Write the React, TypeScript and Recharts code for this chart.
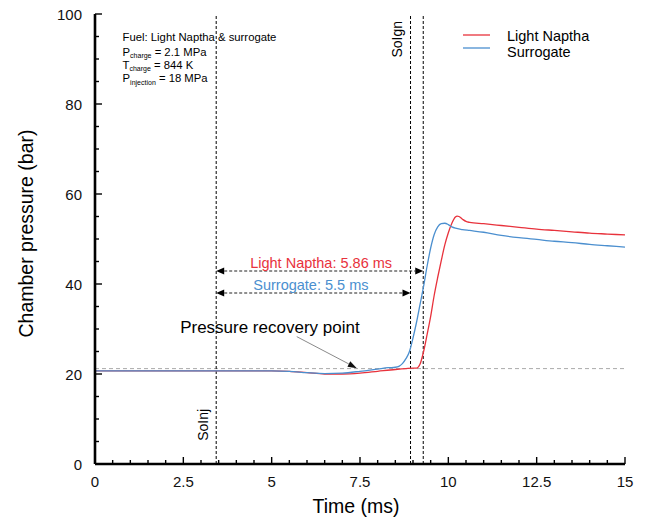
import React from "react";
import {
  LineChart,
  Line,
  XAxis,
  YAxis,
  ReferenceLine,
  ReferenceDot,
  Legend,
} from "recharts";

// ---------------- data ----------------
const timeNaptha = [0, 1, 2, 3, 4, 5, 5.5, 6, 6.5, 7, 7.5, 8, 8.5, 8.8, 9.0, 9.1, 9.2, 9.3, 9.4, 9.5, 9.6, 9.7, 9.8, 9.9, 10.0, 10.1, 10.2, 10.25, 10.3, 10.4, 10.5, 10.6, 11, 11.5, 12, 12.5, 13, 13.5, 14, 14.5, 15];
const pressureNaptha = [20.7, 20.7, 20.7, 20.7, 20.7, 20.7, 20.6, 20.3, 20.0, 20.0, 20.2, 20.6, 21.0, 21.2, 21.3, 21.3, 22.2, 25.0, 28.8, 32.8, 37.5, 41.5, 45.2, 48.7, 51.4, 53.5, 54.9, 55.1, 55.0, 54.4, 53.9, 53.7, 53.4, 53.0, 52.6, 52.2, 51.9, 51.6, 51.3, 51.1, 50.9];

const timeSurrogate = [0, 1, 2, 3, 4, 5, 5.5, 6, 6.5, 7, 7.5, 8, 8.3, 8.5, 8.6, 8.7, 8.8, 8.9, 9.0, 9.1, 9.2, 9.3, 9.4, 9.5, 9.6, 9.7, 9.8, 9.9, 10.0, 10.1, 10.2, 10.4, 10.6, 11, 11.5, 12, 12.5, 13, 13.5, 14, 14.5, 15];
const pressureSurrogate = [20.7, 20.7, 20.7, 20.7, 20.7, 20.7, 20.6, 20.3, 20.1, 20.2, 20.6, 21.1, 21.4, 21.5, 21.7, 22.3, 23.4, 25.0, 28.0, 31.5, 35.5, 39.5, 44.0, 48.0, 51.0, 52.7, 53.4, 53.5, 53.2, 52.7, 52.4, 52.1, 51.9, 51.5, 50.8, 50.3, 49.9, 49.5, 49.2, 48.8, 48.5, 48.2];

const seriesNames = ["Light Naptha", "Surrogate"];

const xMajorTicks = [0, 2.5, 5, 7.5, 10, 12.5, 15];
const xAllTicks = [0, 0.5, 1, 1.5, 2, 2.5, 3, 3.5, 4, 4.5, 5, 5.5, 6, 6.5, 7, 7.5, 8, 8.5, 9, 9.5, 10, 10.5, 11, 11.5, 12, 12.5, 13, 13.5, 14, 14.5, 15];
const yMajorTicks = [0, 20, 40, 60, 80, 100];
const yAllTicks = [0, 5, 10, 15, 20, 25, 30, 35, 40, 45, 50, 55, 60, 65, 70, 75, 80, 85, 90, 95, 100];

// events (ms) and levels (bar)
const startOfInjection = 3.43;
const ignitionSurrogate = 8.93;
const ignitionNaptha = 9.29;
const recoveryPressure = 21.2;
const delayLabels = ["Light Naptha: 5.86 ms", "Surrogate: 5.5 ms"];
const infoLines = ["Fuel: Light Naptha & surrogate", "2.1 MPa", "844 K", "18 MPa"];

const RED = "#e8323c";
const BLUE = "#4b8fcf";
const FONT = "'Liberation Sans', Arial, Helvetica, sans-serif";

const naptha = timeNaptha.map((t, i) => ({ t, p: pressureNaptha[i] }));
const surrogate = timeSurrogate.map((t, i) => ({ t, p: pressureSurrogate[i] }));

// ---------------- ticks ----------------
const BottomTick = (props: any) => {
  const { x, y, payload } = props;
  const v = payload.value;
  const major = xMajorTicks.includes(v);
  return (
    <g>
      <line x1={x} y1={y} x2={x} y2={y - (major ? 7 : 4)} stroke="#000" strokeWidth={1.4} />
      {major && (
        <text x={x} y={y + 23} textAnchor="middle" fontSize={15} fill="#111" fontFamily={FONT}>
          {String(v)}
        </text>
      )}
    </g>
  );
};

const TopTick = (props: any) => {
  const { x, y, payload } = props;
  const major = xMajorTicks.includes(payload.value);
  return <line x1={x} y1={y} x2={x} y2={y + (major ? 6 : 4)} stroke="#000" strokeWidth={1.3} />;
};

const LeftTick = (props: any) => {
  const { x, y, payload } = props;
  const v = payload.value;
  const major = yMajorTicks.includes(v);
  return (
    <g>
      <line x1={x} y1={y} x2={x + (major ? 7 : 4)} y2={y} stroke="#000" strokeWidth={1.4} />
      {major && (
        <text x={x - 13} y={y + 5.5} textAnchor="end" fontSize={15} fill="#111" fontFamily={FONT}>
          {String(v)}
        </text>
      )}
    </g>
  );
};

// ---------------- shapes ----------------
const DoubleArrow = (props: any) => {
  const { x1, y1, x2, y2 } = props;
  const L = 8;
  const H = 3.5;
  return (
    <g>
      <line x1={x1 + L} y1={y1} x2={x2 - L} y2={y2} stroke="#222" strokeWidth={1.1} strokeDasharray="3 2" />
      <polygon points={`${x1},${y1} ${x1 + L},${y1 - H} ${x1 + L},${y1 + H}`} fill="#000" />
      <polygon points={`${x2},${y2} ${x2 - L},${y2 - H} ${x2 - L},${y2 + H}`} fill="#000" />
    </g>
  );
};

const Pointer = (props: any) => {
  const { x1, y1, x2, y2 } = props;
  const dx = x2 - x1;
  const dy = y2 - y1;
  const len = Math.sqrt(dx * dx + dy * dy);
  const ux = dx / len;
  const uy = dy / len;
  const L = 9;
  const H = 3;
  const bx = x2 - ux * L;
  const by = y2 - uy * L;
  return (
    <g>
      <line x1={x1} y1={y1} x2={bx} y2={by} stroke="#8a8a8a" strokeWidth={1} />
      <polygon
        points={`${x2},${y2} ${bx - uy * H},${by + ux * H} ${bx + uy * H},${by - ux * H}`}
        fill="#111"
      />
    </g>
  );
};

const textAt = (text: string, fontSize: number, fill: string, rotate = false, anchor = "middle") => (p: any) => {
  const vb = p.viewBox || {};
  const x = vb.x + (vb.width || 0) / 2;
  const y = vb.y + (vb.height || 0) / 2;
  return (
    <text
      x={x}
      y={y}
      dy="0.35em"
      textAnchor={anchor}
      fontSize={fontSize}
      fill={fill}
      fontFamily={FONT}
      transform={rotate ? `rotate(-90 ${x} ${y})` : undefined}
    >
      {text}
    </text>
  );
};

const InfoBlock = (p: any) => {
  const vb = p.viewBox || {};
  const x = vb.x;
  const y = vb.y;
  const fs = 11.3;
  const sub = 7;
  return (
    <text fontSize={fs} fill="#000" fontFamily={FONT}>
      <tspan x={x} y={y}>{infoLines[0]}</tspan>
      <tspan x={x} y={y + 14.5}>P</tspan>
      <tspan y={y + 17} fontSize={sub}>charge</tspan>
      <tspan y={y + 14.5}>{" = " + infoLines[1]}</tspan>
      <tspan x={x} y={y + 27.5}>T</tspan>
      <tspan y={y + 30} fontSize={sub}>charge</tspan>
      <tspan y={y + 27.5}>{" =  " + infoLines[2]}</tspan>
      <tspan x={x} y={y + 41}>P</tspan>
      <tspan y={y + 43.5} fontSize={sub}>injection</tspan>
      <tspan y={y + 41}>{" = " + infoLines[3]}</tspan>
    </text>
  );
};

const LegendContent = (props: any) => {
  const items = props.payload || [];
  return (
    <svg width={180} height={40}>
      {items.map((it: any, i: number) => (
        <g key={i}>
          <line x1={3} y1={8 + i * 13} x2={30} y2={8 + i * 13} stroke={it.color} strokeWidth={1.3} />
          <text x={47} y={13.5 + i * 16.5} fontSize={14.5} fill="#000" fontFamily={FONT}>
            {it.value}
          </text>
        </g>
      ))}
    </svg>
  );
};

export default function App() {
  return (
    <div style={{ position: "absolute", left: 0, top: 0, background: "#fff" }}>
      <LineChart width={646} height={519} margin={{ top: 14, right: 21, bottom: 5, left: 35 }}>
        <XAxis
          xAxisId="b"
          dataKey="t"
          type="number"
          domain={[0, 15]}
          ticks={xAllTicks}
          interval={0}
          allowDataOverflow
          tickLine={false}
          tickSize={0}
          tickMargin={0}
          tick={<BottomTick />}
          axisLine={{ stroke: "#000", strokeWidth: 2.6 }}
          height={50}
          label={(p: any) => {
            const vb = p.viewBox || {};
            return (
              <text x={vb.x + vb.width / 2 - 4} y={vb.y + 49} textAnchor="middle" fontSize={19.5} fill="#000" fontFamily={FONT}>
                Time (ms)
              </text>
            );
          }}
        />
        <XAxis
          xAxisId="t"
          orientation="top"
          dataKey="t"
          type="number"
          domain={[0, 15]}
          ticks={xAllTicks}
          interval={0}
          allowDataOverflow
          tickLine={false}
          tickSize={0}
          tickMargin={0}
          tick={<TopTick />}
          axisLine={{ stroke: "#000", strokeWidth: 1.6 }}
          height={0}
        />
        <YAxis
          yAxisId="l"
          type="number"
          domain={[0, 100]}
          ticks={yAllTicks}
          interval={0}
          allowDataOverflow
          tickLine={false}
          tickSize={0}
          tickMargin={0}
          tick={<LeftTick />}
          axisLine={{ stroke: "#000", strokeWidth: 2.6 }}
          width={60}
          label={(p: any) => {
            const vb = p.viewBox || {};
            const x = vb.x - 9;
            const y = vb.y + vb.height / 2 - 5.5;
            return (
              <text x={x} y={y} dy="0.35em" textAnchor="middle" fontSize={19.5} fill="#000" fontFamily={FONT} transform={`rotate(-90 ${x} ${y})`}>
                Chamber pressure (bar)
              </text>
            );
          }}
        />
        <YAxis
          yAxisId="r"
          orientation="right"
          type="number"
          domain={[0, 100]}
          allowDataOverflow
          tick={false}
          tickLine={false}
          axisLine={{ stroke: "#000", strokeWidth: 1.6 }}
          width={0}
        />

        <ReferenceLine
          xAxisId="b"
          yAxisId="l"
          y={recoveryPressure}
          stroke="#aaaaaa"
          strokeWidth={1}
          strokeDasharray="4 3"
        />
        <ReferenceLine xAxisId="b" yAxisId="l" x={startOfInjection} stroke="#000" strokeWidth={1} strokeDasharray="3 2" />
        <ReferenceLine xAxisId="b" yAxisId="l" x={ignitionSurrogate} stroke="#000" strokeWidth={1} strokeDasharray="3 2" />
        <ReferenceLine xAxisId="b" yAxisId="l" x={ignitionNaptha} stroke="#000" strokeWidth={1} strokeDasharray="3 2" />

        <ReferenceLine
          xAxisId="b"
          yAxisId="l"
          segment={[
            { x: startOfInjection, y: 42.9 },
            { x: ignitionNaptha, y: 42.9 },
          ]}
          shape={<DoubleArrow />}
        />
        <ReferenceLine
          xAxisId="b"
          yAxisId="l"
          segment={[
            { x: startOfInjection, y: 38.0 },
            { x: ignitionSurrogate, y: 38.0 },
          ]}
          shape={<DoubleArrow />}
        />
        <ReferenceLine
          xAxisId="b"
          yAxisId="l"
          segment={[
            { x: 5.71, y: 28.3 },
            { x: 7.41, y: 21.3 },
          ]}
          shape={<Pointer />}
        />

        <Line
          xAxisId="b"
          yAxisId="l"
          data={naptha}
          dataKey="p"
          name={seriesNames[0]}
          type="monotone"
          stroke={RED}
          strokeWidth={1.3}
          dot={false}
          activeDot={false}
          isAnimationActive={false}
        />
        <Line
          xAxisId="b"
          yAxisId="l"
          data={surrogate}
          dataKey="p"
          name={seriesNames[1]}
          type="monotone"
          stroke={BLUE}
          strokeWidth={1.3}
          dot={false}
          activeDot={false}
          isAnimationActive={false}
        />

        <ReferenceDot xAxisId="b" yAxisId="l" x={6.4} y={44.7} r={0} stroke="none" fill="none" label={textAt(delayLabels[0], 14.5, RED)} />
        <ReferenceDot xAxisId="b" yAxisId="l" x={6.11} y={39.8} r={0} stroke="none" fill="none" label={textAt(delayLabels[1], 14.5, BLUE)} />
        <ReferenceDot xAxisId="b" yAxisId="l" x={4.95} y={30.4} r={0} stroke="none" fill="none" label={textAt("Pressure recovery point", 17, "#000")} />
        <ReferenceDot xAxisId="b" yAxisId="l" x={3.06} y={8.7} r={0} stroke="none" fill="none" label={textAt("SoInj", 14, "#000", true)} />
        <ReferenceDot xAxisId="b" yAxisId="l" x={8.55} y={94.4} r={0} stroke="none" fill="none" label={textAt("SoIgn", 14, "#000", true)} />
        <ReferenceDot xAxisId="b" yAxisId="l" x={0.78} y={94.0} r={0} stroke="none" fill="none" label={(p: any) => <InfoBlock {...p} />} />

        <Legend
          layout="horizontal"
          verticalAlign="middle"
          align="center"
          content={<LegendContent />}
          wrapperStyle={{ left: 460, top: 27, width: 180, height: 40 }}
        />
      </LineChart>
    </div>
  );
}
